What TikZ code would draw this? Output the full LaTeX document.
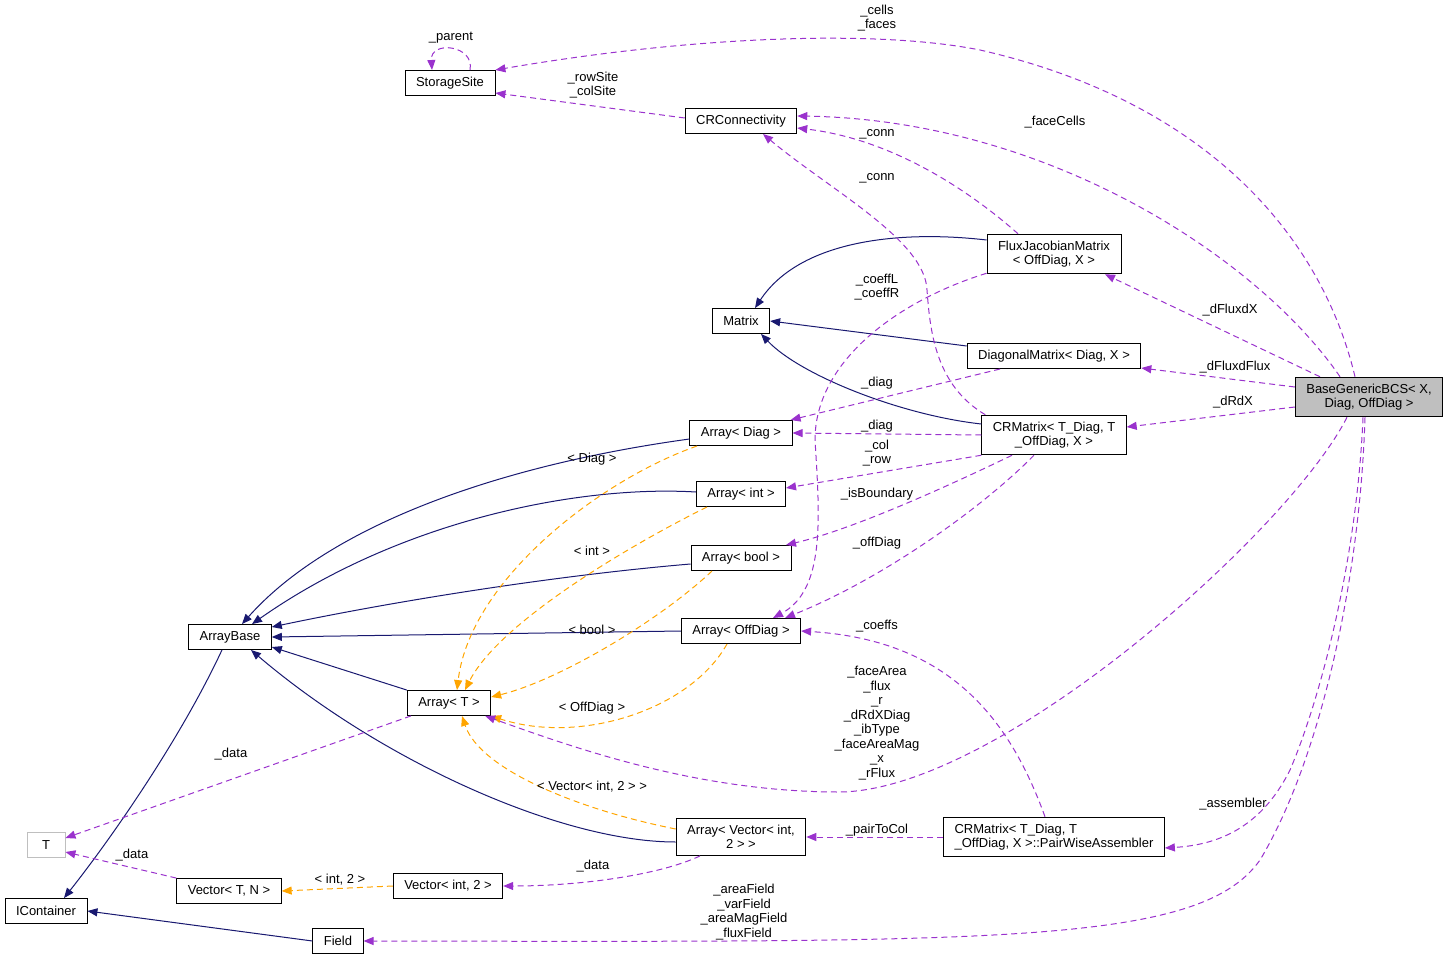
\documentclass[tikz,border=0pt]{standalone}
\usepackage{fontspec}
\setmainfont{Liberation Sans}
\usetikzlibrary{arrows.meta}
\definecolor{inhblue}{HTML}{191970}
\definecolor{mempurple}{HTML}{9A32CD}
\definecolor{tplorange}{HTML}{FFA500}
\definecolor{boxgray}{HTML}{BFBFBF}

\begin{document}
\begin{tikzpicture}[x=1pt, y=-1pt,
    every node/.style={font=\fontsize{13}{14.5}\selectfont},
    cls/.style={draw=black, line width=0.9pt, fill=white, inner xsep=11pt, inner ysep=6.5pt, minimum height=25pt, align=center},
    lbl/.style={align=center, inner sep=0pt},
    inherit/.style={draw=inhblue, line width=1pt, -{Triangle[length=10pt,width=8pt]}},
    member/.style={draw=mempurple, line width=1pt, dash pattern=on 6pt off 4pt, -{Triangle[length=10pt,width=8pt]}},
    templ/.style={draw=tplorange, line width=1pt, dash pattern=on 6pt off 4pt, -{Triangle[length=10pt,width=8pt]}}]

      \useasboundingbox (0,0) rectangle (1451,961);

      \node[cls] (storage) at (450,83) {StorageSite};
      \node[cls] (crconn) at (741,121) {CRConnectivity};
      \node[cls] (fluxjac) at (1054,254) {FluxJacobianMatrix\\< OffDiag, X >};
      \node[cls] (matrix) at (741,321) {Matrix};
      \node[cls] (diagmat) at (1054,356) {DiagonalMatrix< Diag, X >};
      \node[cls, fill=boxgray] (bgbcs) at (1369,397) {BaseGenericBCS< X,\\Diag, OffDiag >};
      \node[cls] (crmat) at (1054,435) {CRMatrix< T\_Diag, T\\\_OffDiag, X >};
      \node[cls] (arrdiag) at (741,433) {Array< Diag >};
      \node[cls] (arrint) at (741,494) {Array< int >};
      \node[cls] (arrbool) at (741,558) {Array< bool >};
      \node[cls] (arroff) at (741,631) {Array< OffDiag >};
      \node[cls] (arraybase) at (230,637) {ArrayBase};
      \node[cls] (arrT) at (449,703) {Array< T >};
      \node[cls, draw=boxgray, minimum width=38pt] (tT) at (46,845) {T};
      \node[cls] (arrvec) at (741,837) {Array< Vector< int,\\2 > >};
      \node[cls, align=left] (pwa) at (1054,837) {CRMatrix< T\_Diag, T\\\_OffDiag, X >::PairWiseAssembler};
      \node[cls] (icont) at (46,911) {IContainer};
      \node[cls] (vecTN) at (229,891) {Vector< T, N >};
      \node[cls] (vecint) at (448,886) {Vector< int, 2 >};
      \node[cls] (field) at (338,941) {Field};

      % inheritance
      \draw[inherit] ([yshift=14pt]fluxjac.west) .. controls (900,230) and (800,240) .. ([xshift=14pt]matrix.north);
      \draw[inherit] ([yshift=10pt]diagmat.west) -- (matrix.east);
      \draw[inherit] ([yshift=11pt]crmat.west) .. controls (900,415) and (800,375) .. ([xshift=20pt]matrix.south);
      \draw[inherit] ([yshift=-6pt]arrdiag.west) .. controls (500,465) and (330,525) .. ([xshift=12pt]arraybase.north);
      \draw[inherit] ([yshift=2pt]arrint.west) .. controls (580,485) and (400,520) .. ([xshift=22pt]arraybase.north);
      \draw[inherit] ([yshift=-6pt]arrbool.west) .. controls (560,575) and (400,600) .. ([yshift=10pt]arraybase.east);
      \draw[inherit] (arroff.west) -- (arraybase.east);
      \draw[inherit] (arrT.north west) -- ([yshift=-10pt]arraybase.east);
      \draw[inherit] ([yshift=-5pt]arrvec.west) .. controls (560,842) and (380,760) .. ([xshift=21pt]arraybase.south);
      \draw[inherit] ([xshift=-8pt]arraybase.south) .. controls (180,740) and (110,840) .. ([xshift=18pt]icont.north);
      \draw[inherit] (field.west) -- (icont.east);

      % template arguments
      \draw[templ] ([xshift=-44pt]arrdiag.south) .. controls (600,480) and (470,580) .. ([xshift=8pt]arrT.north);
      \draw[templ] ([xshift=-34pt]arrint.south) .. controls (640,540) and (500,620) .. ([xshift=16pt]arrT.north);
      \draw[templ] ([xshift=-29pt]arrbool.south) .. controls (660,620) and (560,680) .. ([yshift=6pt]arrT.east);
      \draw[templ] ([xshift=-14pt]arroff.south) .. controls (690,710) and (580,745) .. (arrT.south east);
      \draw[templ] ([yshift=8pt]arrvec.west) .. controls (580,810) and (480,770) .. ([xshift=13pt]arrT.south);
      \draw[templ] (vecint.west) -- (vecTN.east);

      \node[lbl] at (592,459) {< Diag >};
      \node[lbl] at (592,551) {< int >};
      \node[lbl] at (592,630) {< bool >};
      \node[lbl] at (592,708) {< OffDiag >};
      \node[lbl] at (592,787) {< Vector< int, 2 > >};
      \node[lbl] at (340,880) {< int, 2 >};

      % members
      \draw[member] ([xshift=20pt]storage.north) .. controls (475,45) and (430,40) .. ([xshift=-18pt]storage.north);
      \draw[member] ([xshift=-14pt]bgbcs.north) .. controls (1320,230) and (1200,100) .. (980,50) .. controls (880,30) and (700,35) .. (storage.north east);
      \draw[member] ([yshift=3pt]crconn.west) -- ([yshift=-10pt]storage.east);
      \draw[member] ([xshift=-29pt]bgbcs.north) .. controls (1260,260) and (1050,120) .. ([yshift=5pt]crconn.east);
      \draw[member] ([xshift=-36pt]fluxjac.north) .. controls (980,200) and (900,140) .. ([yshift=-7pt]crconn.east);
      \draw[member] ([xshift=4pt]crmat.north west) .. controls (935,385) and (930,330) .. (927,290) .. controls (925,240) and (830,190) .. ([xshift=22pt]crconn.south);
      \draw[member] ([xshift=-49pt]bgbcs.north) -- ([xshift=51pt]fluxjac.south);
      \draw[member] ([yshift=10pt]bgbcs.west) -- ([yshift=-12pt]diagmat.east);
      \draw[member] ([yshift=-10pt]bgbcs.west) -- ([yshift=8pt]crmat.east);
      \draw[member] ([yshift=1pt]fluxjac.south west) .. controls (900,300) and (815,360) .. (815,440) .. controls (820,520) and (825,590) .. ([xshift=32pt]arroff.north);
      \draw[member] ([xshift=-54pt]diagmat.south) -- ([xshift=-2pt]arrdiag.north east);
      \draw[member] (crmat.west) -- (arrdiag.east);
      \draw[member] (crmat.south west) -- ([yshift=6pt]arrint.east);
      \draw[member] ([xshift=-42pt]crmat.south) .. controls (940,490) and (850,530) .. ([xshift=45pt]arrbool.north);
      \draw[member] ([xshift=-20pt]crmat.south) .. controls (980,510) and (880,580) .. ([xshift=44pt]arroff.north);
      \draw[member] ([xshift=-9pt]pwa.north) .. controls (1010,720) and (950,640) .. (arroff.east);
      \draw[member] ([xshift=-22pt]bgbcs.south) .. controls (1290,530) and (1000,790) .. (840,792) .. controls (700,792) and (580,750) .. ([xshift=-6pt]arrT.south east);
      \draw[member] ([xshift=4pt]arrT.south west) -- ([yshift=7pt]tT.east);
      \draw[member] (pwa.west) -- (arrvec.east);
      \draw[member] ([xshift=-6pt]bgbcs.south) .. controls (1357,560) and (1320,700) .. (1290,770) .. controls (1260,830) and (1215,845) .. ([yshift=-11pt]pwa.east);
      \draw[member] ([xshift=-41pt]arrvec.south) .. controls (660,875) and (580,886) .. (vecint.east);
      \draw[member] (vecTN.north west) -- ([yshift=-7pt]tT.east);
      \draw[member] ([xshift=-4pt]bgbcs.south) .. controls (1360,580) and (1320,760) .. (1260,860) .. controls (1200,945) and (1000,942) .. (field.east);

      \node[lbl] at (451,38) {\_parent};
      \node[lbl] at (877,18) {\_cells\\\_faces};
      \node[lbl] at (593,85) {\_rowSite\\\_colSite};
      \node[lbl] at (1055,122) {\_faceCells};
      \node[lbl] at (877,134) {\_conn};
      \node[lbl] at (877,178) {\_conn};
      \node[lbl] at (877,287) {\_coeffL\\\_coeffR};
      \node[lbl] at (1230,310) {\_dFluxdX};
      \node[lbl] at (1235,367) {\_dFluxdFlux};
      \node[lbl] at (1233,402) {\_dRdX};
      \node[lbl] at (877,383) {\_diag};
      \node[lbl] at (877,426) {\_diag};
      \node[lbl] at (877,453) {\_col\\\_row};
      \node[lbl] at (877,494) {\_isBoundary};
      \node[lbl] at (877,543) {\_offDiag};
      \node[lbl] at (877,626) {\_coeffs};
      \node[lbl] at (877,723) {\_faceArea\\\_flux\\\_r\\\_dRdXDiag\\\_ibType\\\_faceAreaMag\\\_x\\\_rFlux};
      \node[lbl] at (231,754) {\_data};
      \node[lbl] at (877,830) {\_pairToCol};
      \node[lbl] at (1233,804) {\_assembler};
      \node[lbl] at (593,866) {\_data};
      \node[lbl] at (132,855) {\_data};
      \node[lbl] at (744,912) {\_areaField\\\_varField\\\_areaMagField\\\_fluxField};

\end{tikzpicture}
\end{document}
